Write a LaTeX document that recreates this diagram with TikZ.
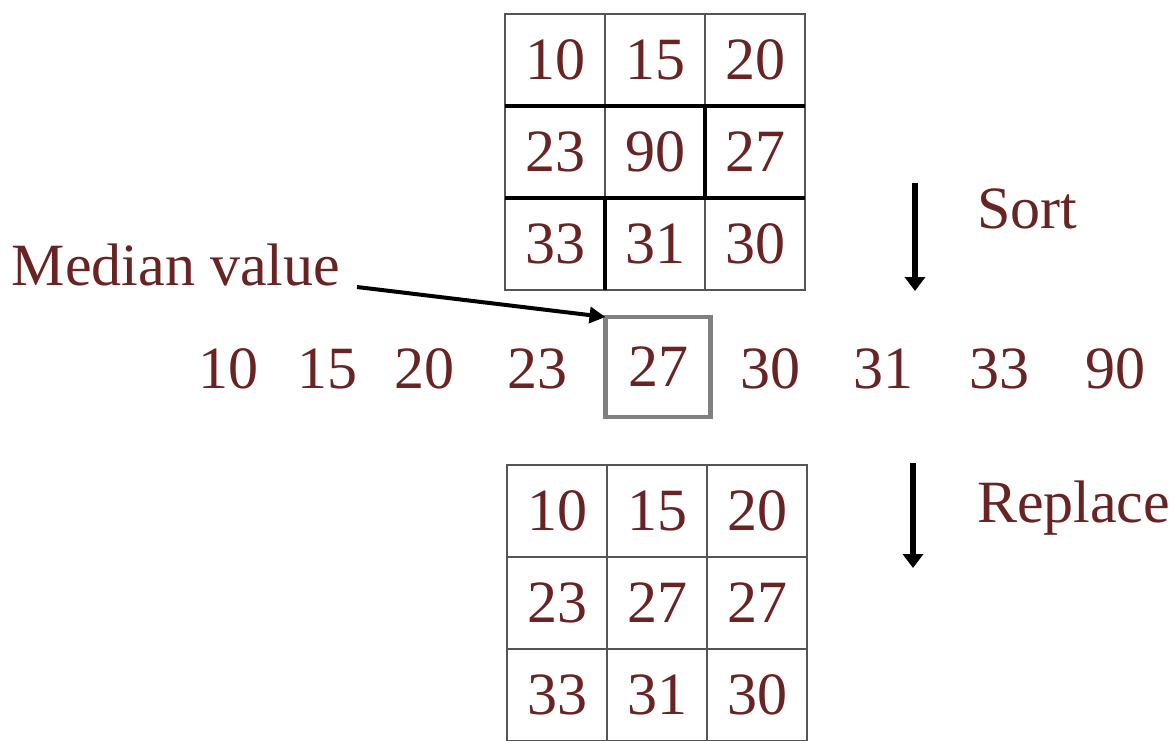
\documentclass[tikz,border=0pt]{standalone}
\usepackage{fontspec}
\setmainfont{Liberation Serif}
\usetikzlibrary{arrows.meta}
\definecolor{txt}{RGB}{105,35,35}
\definecolor{gridgray}{RGB}{85,85,85}
\begin{document}
\begin{tikzpicture}[x=1pt,y=-1pt,
  every node/.style={text=txt,font=\fontsize{60}{66}\selectfont,inner sep=0pt,outer sep=0pt},
  cell/.style={draw=gridgray,line width=2.5pt,minimum width=100pt,minimum height=92pt},
  num/.style={anchor=base},
  medbox/.style={draw=gray,line width=4.5pt,minimum width=105pt,minimum height=100pt},
  bigarrow/.style={line width=6pt,-{Triangle[length=14pt,width=20pt]}},
  pointer/.style={line width=4pt,-{Triangle[length=16pt,width=16pt]}}]
\useasboundingbox[fill=white] (0,0) rectangle (1174,740);
% top grid
\node[cell] (t11) at (555,60) {10};
\node[cell] (t12) at (655,60) {15};
\node[cell] (t13) at (755,60) {20};
\node[cell] (t21) at (555,152) {23};
\node[cell] (t22) at (655,152) {90};
\node[cell] (t23) at (755,152) {27};
\node[cell] (t31) at (555,244) {33};
\node[cell] (t32) at (655,244) {31};
\node[cell] (t33) at (755,244) {30};
\draw[black,line width=3.5pt] (t21.north west) -- (t23.north east);
\draw[black,line width=3.5pt] (t31.north west) -- (t33.north east);
\draw[black,line width=3.5pt] (t22.north east) -- (t22.south east);
\draw[black,line width=3.5pt] (t31.north east) -- (t31.south east);
% bottom grid
\node[cell] (b11) at (557,511) {10};
\node[cell] (b12) at (657,511) {15};
\node[cell] (b13) at (757,511) {20};
\node[cell] (b21) at (557,603) {23};
\node[cell] (b22) at (657,603) {27};
\node[cell] (b23) at (757,603) {27};
\node[cell] (b31) at (557,695) {33};
\node[cell] (b32) at (657,695) {31};
\node[cell] (b33) at (757,695) {30};
% sorted row
\node[num] (s1) at (228,388) {10};
\node[num] (s2) at (327,388) {15};
\node[num] (s3) at (424,388) {20};
\node[num] (s4) at (537,388) {23};
\node[medbox] (med) at (658,367) {27};
\node[num] (s6) at (770,388) {30};
\node[num] (s7) at (883,388) {31};
\node[num] (s8) at (999,388) {33};
\node[num] (s9) at (1115,388) {90};
% labels
\node[anchor=base west] (mv) at (12,285) {Median value};
\node[anchor=base west] (sort) at (977,228) {Sort};
\node[anchor=base west] (repl) at (977,522) {Replace};
% arrows
\coordinate (mvtail) at (357,287);
\draw[pointer] (mvtail) -- (med.north west);
\coordinate (sorttop) at (915,183);
\coordinate (sortbot) at (915,291);
\draw[bigarrow] (sorttop) -- (sortbot);
\coordinate (repltop) at (913,463);
\coordinate (replbot) at (913,568);
\draw[bigarrow] (repltop) -- (replbot);
\end{tikzpicture}
\end{document}
